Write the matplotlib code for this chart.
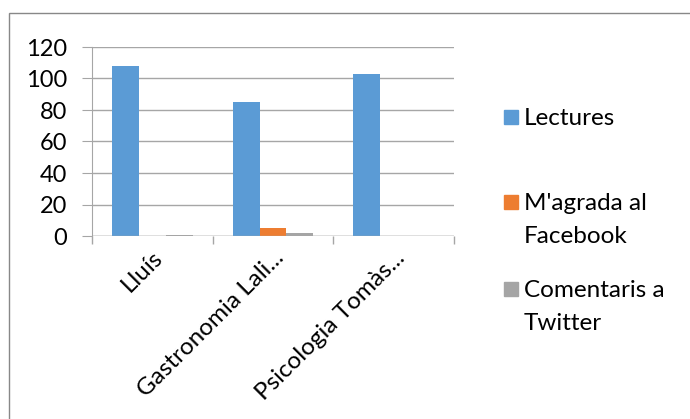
import numpy as np
import matplotlib
matplotlib.use('Agg')
import matplotlib.pyplot as plt
from matplotlib.patches import Rectangle

plt.rcParams['font.family'] = ['Lato', 'DejaVu Sans']

# dades
categories = ['Lluís', 'Gastronomia Lali...', 'Psicologia Tomàs...']
series_names = ['Lectures', "M'agrada al\nFacebook", 'Comentaris a\nTwitter']
lectures = [108, 85, 103]
facebook = [0, 5, 0]
twitter = [0.5, 2, 0]
colors = ['#5B9BD5', '#ED7D31', '#A5A5A5']

fig = plt.figure(figsize=(6.9, 4.19), dpi=100)
ax = fig.add_axes([92 / 690, 1 - 236 / 419, 362 / 690, 189 / 419])

x = np.arange(len(categories))
w = 1 / 4.5
for i, vals in enumerate([lectures, facebook, twitter]):
    ax.bar(x + (i - 1) * w, vals, width=w, color=colors[i], zorder=3)

ax.set_xlim(-0.5, len(categories) - 0.5)
ax.set_ylim(0, 120)
ax.set_yticks(range(0, 121, 20))
ax.yaxis.grid(True, color='#a6a6a6', lw=1, zorder=0)
for s in ['top', 'right', 'bottom']:
    ax.spines[s].set_visible(False)
ax.spines['left'].set_color('#a6a6a6')
ax.axhline(0, color='#a6a6a6', lw=1, zorder=4)

# marques de categoria
ax.set_xticks(np.arange(-0.5, len(categories), 1), minor=False)
ax.set_xticklabels([])
ax.tick_params(axis='x', length=6, color='#a6a6a6', width=1)
ax.set_xticks(x, minor=True)
ax.set_xticklabels(categories, minor=True, rotation=45, ha='right', va='top',
                   rotation_mode='anchor', fontsize=17.5)
ax.tick_params(axis='x', which='minor', length=0, pad=8)
ax.tick_params(axis='y', length=7, color='#a6a6a6', labelsize=17, pad=11)

# llegenda
leg_y = [119, 204, 291]
for i, name in enumerate(series_names):
    fig.add_artist(Rectangle((504 / 690, 1 - (leg_y[i] + 5) / 419), 14 / 690, 14 / 419,
                             transform=fig.transFigure, color=colors[i]))
    fig.text(524 / 690, 1 - (leg_y[i] - 11) / 419, name, fontsize=17.5,
             va='top', ha='left', linespacing=1.68)

# marc exterior
fig.add_artist(Rectangle((9 / 690, -0.1), 1.1, 1 - 13 / 419 + 0.1,
                         transform=fig.transFigure, fill=False, ec='#888888', lw=1))

fig.savefig('out.png', dpi=100)
